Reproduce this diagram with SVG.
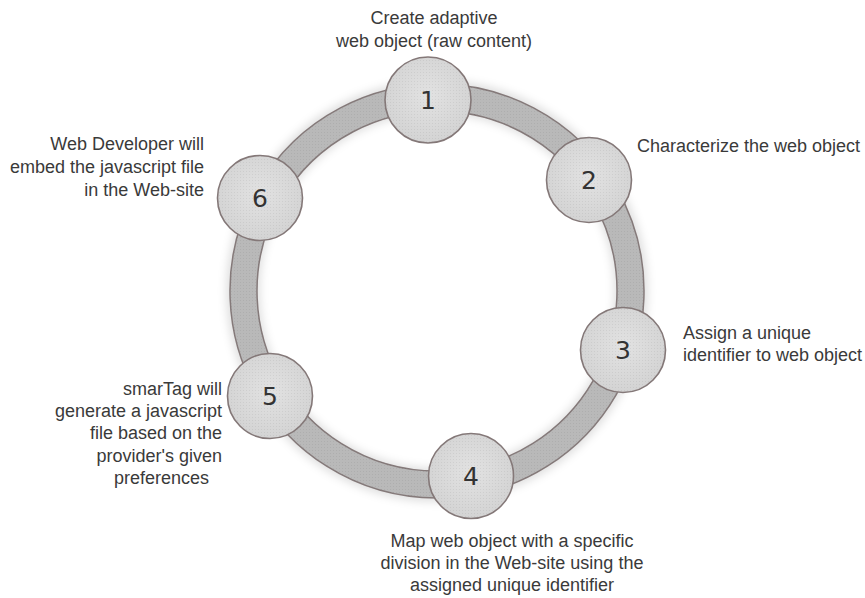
<svg xmlns="http://www.w3.org/2000/svg" width="865" height="598" viewBox="0 0 865 598">
  <defs>
    <pattern id="dots" width="3" height="3" patternUnits="userSpaceOnUse">
      <rect width="3" height="3" fill="none"/>
      <rect width="1" height="1" fill="#000" fill-opacity="0.06"/>
    </pattern>
    <radialGradient id="nodeFill" cx="50%" cy="45%" r="60%">
      <stop offset="0" stop-color="#e2e2e2"/>
      <stop offset="1" stop-color="#d2d2d2"/>
    </radialGradient>
    <filter id="halo" x="-20%" y="-20%" width="140%" height="140%">
      <feGaussianBlur stdDeviation="4"/>
    </filter>
  </defs>
  <style>
    .ring { fill: #b9b9b9; stroke: #857a7a; stroke-width: 1.5; fill-rule: evenodd; }
    .node circle.body { fill: url(#nodeFill); stroke: #847878; stroke-width: 1.6; }
    .node circle.tex { fill: url(#dots); stroke: none; }
    .num { font-family: "DejaVu Sans", Verdana, sans-serif; font-size: 25px; fill: #333; text-anchor: middle; }
    .lbl { font-family: "Liberation Sans", Arial, sans-serif; font-size: 18px; fill: #3a3a3a; }
  </style>

  <!-- ring connecting the six steps -->
  <g id="connectors">
    <circle cx="437" cy="291" r="194" fill="none" stroke="#000" stroke-opacity="0.12" stroke-width="34" filter="url(#halo)"/>
    <path class="ring" d="M437 84 A207 207 0 1 1 436.99 84 Z M437 111 A180 180 0 1 0 437.01 111 Z"/>
    <path d="M437 84 A207 207 0 1 1 436.99 84 Z M437 111 A180 180 0 1 0 437.01 111 Z" fill="url(#dots)" fill-rule="evenodd"/>
  </g>

  <g id="node1" class="node">
    <circle class="body" cx="428" cy="100" r="43"/>
    <circle class="tex" cx="428" cy="100" r="42"/>
    <text class="num" x="428" y="109">1</text>
  </g>
  <g id="node2" class="node">
    <circle class="body" cx="589" cy="180" r="42.5"/>
    <circle class="tex" cx="589" cy="180" r="41.5"/>
    <text class="num" x="589" y="189">2</text>
  </g>
  <g id="node3" class="node">
    <circle class="body" cx="623" cy="350" r="42.5"/>
    <circle class="tex" cx="623" cy="350" r="41.5"/>
    <text class="num" x="623" y="359">3</text>
  </g>
  <g id="node4" class="node">
    <circle class="body" cx="471" cy="476" r="42.5"/>
    <circle class="tex" cx="471" cy="476" r="41.5"/>
    <text class="num" x="471" y="485">4</text>
  </g>
  <g id="node5" class="node">
    <circle class="body" cx="270" cy="396" r="42.5"/>
    <circle class="tex" cx="270" cy="396" r="41.5"/>
    <text class="num" x="270" y="405">5</text>
  </g>
  <g id="node6" class="node">
    <circle class="body" cx="260" cy="198" r="42.5"/>
    <circle class="tex" cx="260" cy="198" r="41.5"/>
    <text class="num" x="260" y="207">6</text>
  </g>

  <!-- step descriptions -->
  <g id="label1" class="lbl" text-anchor="middle">
    <text x="434" y="24">Create adaptive</text>
    <text x="434" y="47">web object (raw content)</text>
  </g>
  <g id="label2" class="lbl">
    <text x="637" y="152">Characterize the web object</text>
  </g>
  <g id="label3" class="lbl">
    <text x="683" y="339">Assign a unique</text>
    <text x="683" y="361">identifier to web object</text>
  </g>
  <g id="label4" class="lbl" text-anchor="middle">
    <text x="512" y="547">Map web object with a specific</text>
    <text x="512" y="569">division in the Web-site using the</text>
    <text x="512" y="591">assigned unique identifier</text>
  </g>
  <g id="label5" class="lbl" text-anchor="end">
    <text x="222" y="395">smarTag will</text>
    <text x="222" y="417">generate a javascript</text>
    <text x="222" y="439">file based on the</text>
    <text x="222" y="462">provider's given</text>
    <text x="209" y="484">preferences</text>
  </g>
  <g id="label6" class="lbl" text-anchor="end">
    <text x="204" y="150">Web Developer will</text>
    <text x="204" y="173">embed the javascript file</text>
    <text x="204" y="196">in the Web-site</text>
  </g>
</svg>
